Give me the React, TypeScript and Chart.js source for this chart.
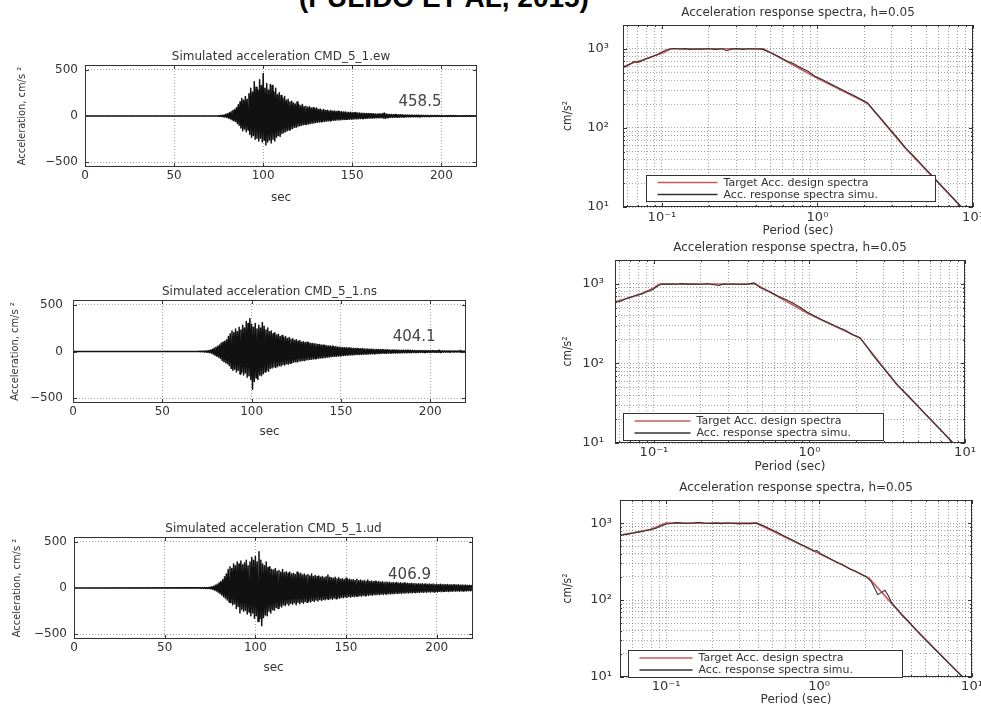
import React, { useEffect, useRef } from "react";
import { Chart, registerables } from "chart.js";

Chart.register(...registerables);

const figureTitle = "(PULIDO ET AL, 2015)";

// ---------- simulated accelerograms ----------
const timeTicks = [0, 50, 100, 150, 200];
const ampTicks = [-500, 0, 500];
const timeMax = 220;
const ampLimit = 550;
const peakStartSec = 70; // first entry of each peak list; the records are flat before it

// per-second peak swings (cm/s²) from 70 s to 220 s: positive and negative
const ewPos = [
  0, 0, 0, 0, 0, 3, 5, 8, 12, 18,
  25, 35, 45, 60, 70, 90, 120, 150, 190, 170,
  210, 180, 240, 300, 260, 370, 310, 280, 390, 330,
  458.5, 300, 350, 280, 340, 330, 260, 300, 230, 250,
  220, 190, 210, 170, 180, 150, 160, 140, 130, 150,
  120, 110, 125, 100, 105, 95, 100, 85, 90, 80,
  85, 70, 75, 65, 70, 60, 62, 55, 60, 52,
  55, 48, 50, 45, 47, 42, 44, 40, 38, 40,
  36, 35, 37, 33, 32, 30, 31, 28, 27, 28,
  25, 24, 25, 22, 21, 22, 20, 28, 32, 22,
  18, 17, 16, 15, 16, 14, 13, 14, 12, 12,
  11, 10, 10, 9, 9, 9, 8, 8, 8, 7,
  7, 7, 6, 6, 6, 6, 5, 5, 5, 5,
  5, 5, 4, 4, 4, 4, 4, 4, 4, 3,
  3, 3, 3, 3, 3, 3, 3, 3, 3, 3,
  3,
];
const ewNeg = [
  0, 0, 0, 0, 0, 3, 5, 7, 10, 15,
  22, 30, 40, 50, 60, 80, 100, 130, 160, 140,
  170, 150, 200, 230, 210, 250, 240, 270, 240, 280,
  260, 312, 280, 260, 290, 250, 270, 230, 210, 220,
  190, 180, 170, 160, 150, 140, 135, 120, 125, 110,
  105, 100, 95, 90, 88, 85, 80, 78, 75, 70,
  68, 65, 62, 60, 58, 55, 52, 50, 48, 46,
  45, 43, 42, 40, 39, 37, 36, 35, 34, 33,
  32, 31, 30, 29, 28, 27, 26, 25, 24, 23,
  22, 22, 21, 20, 19, 19, 18, 22, 26, 18,
  16, 15, 15, 14, 14, 13, 12, 12, 11, 11,
  10, 10, 9, 9, 9, 8, 8, 8, 7, 7,
  7, 6, 6, 6, 6, 5, 5, 5, 5, 5,
  5, 4, 4, 4, 4, 4, 4, 4, 3, 3,
  3, 3, 3, 3, 3, 3, 3, 3, 3, 3,
  3,
];
const nsPos = [
  0, 2, 3, 4, 5, 8, 10, 15, 25, 35,
  45, 55, 70, 90, 100, 110, 125, 160, 190, 220,
  200, 240, 210, 260, 230, 280, 250, 320, 300, 350,
  290, 260, 300, 240, 280, 250, 310, 270, 230, 250,
  210, 220, 190, 200, 175, 185, 160, 170, 150, 160,
  140, 150, 130, 135, 120, 125, 110, 115, 100, 105,
  95, 98, 90, 88, 85, 82, 80, 76, 74, 70,
  68, 66, 62, 60, 58, 55, 53, 50, 48, 46,
  44, 43, 41, 40, 38, 37, 36, 34, 33, 32,
  30, 30, 29, 28, 27, 26, 25, 24, 23, 22,
  22, 21, 20, 20, 19, 18, 18, 17, 17, 16,
  16, 15, 15, 14, 14, 14, 13, 13, 12, 12,
  12, 11, 11, 11, 10, 10, 10, 10, 9, 9,
  9, 9, 8, 8, 8, 15, 8, 7, 7, 7,
  7, 7, 6, 6, 6, 6, 6, 12, 5, 5,
  5,
];
const nsNeg = [
  0, 2, 3, 4, 6, 8, 12, 18, 28, 38,
  50, 60, 75, 95, 110, 120, 130, 150, 180, 200,
  190, 220, 200, 240, 220, 250, 230, 276, 260, 300,
  404.1, 320, 280, 300, 250, 260, 237, 220, 200, 210,
  180, 175, 165, 170, 160, 150, 155, 140, 145, 130,
  135, 125, 120, 115, 110, 112, 105, 100, 95, 98,
  90, 88, 84, 82, 80, 77, 75, 72, 70, 68,
  66, 64, 60, 58, 56, 54, 52, 50, 48, 46,
  44, 42, 41, 40, 38, 37, 36, 34, 33, 32,
  31, 30, 29, 28, 27, 26, 25, 24, 23, 22,
  22, 21, 20, 19, 19, 18, 17, 17, 16, 16,
  15, 15, 14, 14, 13, 13, 13, 12, 12, 12,
  11, 11, 11, 10, 10, 10, 10, 9, 9, 9,
  9, 8, 8, 8, 8, 12, 7, 7, 7, 7,
  7, 6, 6, 6, 6, 6, 6, 10, 5, 5,
  5,
];
const udPos = [
  2, 3, 4, 5, 6, 8, 12, 20, 30, 40,
  55, 70, 90, 120, 150, 200, 230, 210, 260, 240,
  280, 260, 290, 250, 270, 300, 240, 280, 330, 300,
  340, 280, 390, 300, 260, 240, 280, 220, 230, 200,
  195, 210, 180, 190, 170, 200, 165, 175, 160, 170,
  150, 160, 145, 170, 150, 160, 140, 150, 135, 145,
  130, 150, 125, 135, 120, 130, 115, 125, 110, 120,
  140, 115, 110, 105, 115, 100, 110, 95, 100, 90,
  105, 88, 95, 85, 90, 80, 95, 78, 85, 75,
  80, 72, 85, 70, 75, 68, 72, 65, 70, 62,
  68, 60, 65, 58, 62, 55, 60, 55, 58, 52,
  56, 50, 55, 48, 52, 46, 50, 45, 48, 44,
  46, 42, 45, 40, 44, 40, 42, 38, 42, 38,
  40, 36, 40, 35, 38, 34, 38, 33, 36, 32,
  35, 32, 34, 30, 33, 30, 32, 28, 30, 27,
  28,
];
const udNeg = [
  2, 3, 4, 5, 6, 9, 14, 22, 32, 45,
  60, 75, 95, 110, 130, 150, 160, 180, 170, 220,
  200, 270, 230, 250, 240, 280, 260, 300, 270, 325,
  300, 360, 330, 406.9, 320, 290, 300, 250, 270, 235,
  240, 210, 220, 195, 205, 180, 190, 170, 185, 165,
  175, 160, 180, 155, 170, 150, 165, 145, 155, 140,
  150, 135, 145, 130, 140, 125, 135, 120, 128, 115,
  125, 112, 120, 108, 115, 104, 110, 100, 106, 96,
  102, 92, 98, 88, 94, 85, 90, 82, 88, 78,
  84, 75, 80, 72, 78, 70, 74, 68, 72, 65,
  70, 62, 68, 60, 65, 58, 62, 56, 60, 54,
  58, 52, 56, 50, 54, 48, 52, 46, 50, 45,
  48, 43, 47, 42, 45, 40, 44, 40, 42, 38,
  42, 36, 40, 35, 38, 34, 38, 33, 36, 32,
  35, 31, 34, 30, 33, 29, 32, 28, 30, 27,
  28,
];

// ---------- acceleration response spectra, h = 0.05 ----------
const periodTicks = [0.05, 0.06, 0.07, 0.08, 0.09, 0.1, 0.2, 0.3, 0.4, 0.5, 0.6, 0.7, 0.8, 0.9, 1, 2, 3, 4, 5, 6, 7, 8, 9, 10];
const periodMajor = [0.1, 1, 10];
const periodMajorLabels = ["10⁻¹", "10⁰", "10¹"];
const saTicks = [10, 20, 30, 40, 50, 60, 70, 80, 90, 100, 200, 300, 400, 500, 600, 700, 800, 900, 1000, 2000];
const saMajor = [10, 100, 1000];
const saMajorLabels = ["10¹", "10²", "10³"];

const targetLabel = "Target Acc. design spectra";
const simLabel = "Acc. response spectra simu.";

// EW component
const ewTargetT = [0.0562, 0.066, 0.077, 0.089, 0.103, 0.114, 0.45, 1.0, 2.1, 3.6, 8.4, 10];
const ewTargetSa = [590, 670, 730, 815, 900, 1000, 1000, 425, 205, 58, 10, 7.1];
const horizSimT = [
  0.0562, 0.06, 0.063, 0.066, 0.07, 0.074, 0.078, 0.083, 0.088, 0.094,
  0.1, 0.106, 0.113, 0.12, 0.13, 0.14, 0.15, 0.165, 0.18, 0.2,
  0.22, 0.245, 0.26, 0.28, 0.3, 0.33, 0.36, 0.4, 0.44, 0.48,
  0.52, 0.57, 0.63, 0.7, 0.78, 0.87, 0.97, 1.08, 1.2, 1.35,
  1.5, 1.7, 1.9, 2.1, 2.35, 2.6, 2.9, 3.3, 3.7, 4.2,
  4.8, 5.5, 6.3, 7.2, 8.2, 9.2, 10,
];
const ewSimSa = [
  575, 610, 650, 690, 675, 700, 745, 770, 805, 850,
  910, 965, 995, 1010, 995, 1005, 985, 995, 990, 1000,
  985, 1000, 945, 990, 1005, 985, 1000, 995, 990, 925,
  860, 790, 705, 650, 575, 520, 445, 405, 365, 325,
  290, 258, 230, 205, 158, 126, 98, 73, 55, 43,
  32.5, 24.5, 18.3, 13.9, 10.6, 8.3, 7.1,
];

// NS component
const nsTargetT = [0.0562, 0.073, 0.085, 0.0986, 0.109, 0.45, 1.0, 2.13, 3.59, 8.4, 10];
const nsTargetSa = [597, 690, 762, 883, 1000, 1000, 415, 207, 56, 10, 7.1];
const nsSimSa = [
  590, 600, 625, 650, 675, 700, 725, 745, 790, 815,
  870, 950, 1000, 995, 1000, 990, 1010, 995, 1000, 990,
  1005, 975, 955, 995, 990, 1000, 985, 995, 1030, 900,
  845, 775, 700, 640, 575, 510, 440, 395, 355, 320,
  290, 262, 230, 212, 160, 122, 94, 70, 53, 41.5,
  31.5, 23.8, 18, 13.7, 10.4, 8.3, 7.0,
];

// UD component
const udTargetT = [0.05, 0.061, 0.0786, 0.1, 0.39, 0.955, 2.12, 3.0, 4.05, 6.3, 8.7, 10];
const udTargetSa = [700, 748, 828, 1000, 1000, 420, 193, 90, 47, 19, 10, 7.6];
const udSimT = [
  0.05, 0.055, 0.06, 0.066, 0.072, 0.079, 0.086, 0.094, 0.1, 0.108,
  0.117, 0.127, 0.138, 0.15, 0.163, 0.178, 0.195, 0.21, 0.23, 0.25,
  0.27, 0.3, 0.33, 0.36, 0.39, 0.43, 0.48, 0.53, 0.59, 0.66,
  0.74, 0.83, 0.93, 0.97, 1.02, 1.1, 1.2, 1.32, 1.45, 1.6,
  1.75, 1.9, 2.05, 2.2, 2.32, 2.42, 2.55, 2.7, 2.85, 3.0,
  3.2, 3.5, 3.9, 4.4, 5.0, 5.7, 6.5, 7.4, 8.4, 9.3, 10,
];
const udSimSa = [
  695, 715, 740, 765, 790, 820, 860, 925, 975, 990,
  1015, 1000, 990, 1005, 1025, 995, 990, 1000, 985, 1005,
  995, 980, 990, 985, 1000, 935, 840, 765, 680, 615,
  545, 490, 435, 440, 400, 375, 340, 308, 283, 252,
  235, 215, 200, 172, 140, 118, 125, 134, 112, 90,
  78, 63, 51, 39, 30, 23, 17.8, 13.7, 10.7, 8.8, 7.6,
];

// ---------- styling ----------
const FONT = "'DejaVu Sans', 'Open Sans', sans-serif";
const FONT_NARROW = "'DejaVu Sans Condensed', 'DejaVu Sans', sans-serif";
const INK = "#333";
const GRID = "rgba(90,90,90,0.55)";
const TARGET_COLOR = "#cf5858";
const SIM_COLOR = "#333";

type Area = { l: number; t: number; r: number; b: number };
type Box = { x: number; y: number; w: number; h: number };

function fit(area: Area, box: Box) {
  return {
    padTop: area.t - box.y,
    padRight: box.x + box.w - area.r,
    yWidth: area.l - box.x,
    xHeight: box.y + box.h - area.b,
  };
}

// Draws the closed axes box, inward tick marks, the panel title, an optional
// value note and an optional legend box.
const decorPlugin = {
  id: "decor",
  afterDatasetsDraw(chart: any, _args: any, opts: any) {
    const { ctx, chartArea: a } = chart;
    const xs = chart.scales.x;
    const ys = chart.scales.y;
    ctx.save();
    ctx.setLineDash([]);
    ctx.strokeStyle = INK;
    ctx.lineWidth = 1;
    ctx.beginPath();
    for (const t of xs.ticks) {
      const px = Math.round(xs.getPixelForValue(t.value)) + 0.5;
      const len = t.label ? 4 : 2;
      ctx.moveTo(px, a.bottom);
      ctx.lineTo(px, a.bottom - len);
      ctx.moveTo(px, a.top);
      ctx.lineTo(px, a.top + len);
    }
    for (const t of ys.ticks) {
      const py = Math.round(ys.getPixelForValue(t.value)) + 0.5;
      const len = t.label ? 4 : 2;
      ctx.moveTo(a.left, py);
      ctx.lineTo(a.left + len, py);
      ctx.moveTo(a.right, py);
      ctx.lineTo(a.right - len, py);
    }
    ctx.stroke();
    ctx.strokeRect(
      Math.round(a.left) + 0.5,
      Math.round(a.top) + 0.5,
      Math.round(a.right - a.left) - 1,
      Math.round(a.bottom - a.top) - 1
    );

    ctx.fillStyle = INK;
    ctx.textAlign = "center";
    ctx.textBaseline = "middle";
    ctx.font = `12px ${FONT}`;
    ctx.fillText(opts.title, (a.left + a.right) / 2, a.top - opts.titleGap);

    if (opts.note) {
      ctx.fillStyle = "#444";
      ctx.font = `15px ${FONT}`;
      ctx.fillText(opts.note.text, xs.getPixelForValue(opts.note.x), ys.getPixelForValue(opts.note.y));
    }

    if (opts.legend) {
      const lg = opts.legend;
      const left = Math.round(a.left + lg.dx) + 0.5;
      const top = Math.round(a.bottom - lg.dy - lg.h) + 0.5;
      ctx.fillStyle = "#fff";
      ctx.fillRect(left, top, lg.w, lg.h);
      ctx.strokeStyle = INK;
      ctx.strokeRect(left, top, lg.w, lg.h);
      ctx.font = `11px ${FONT}`;
      ctx.textAlign = "left";
      lg.items.forEach((it: any, i: number) => {
        const y = top + lg.h / 2 + (i - 0.5) * 12;
        ctx.strokeStyle = it.color;
        ctx.lineWidth = 1.3;
        ctx.beginPath();
        ctx.moveTo(left + 11, y);
        ctx.lineTo(left + lg.line, y);
        ctx.stroke();
        ctx.fillStyle = INK;
        ctx.fillText(it.text, left + lg.line + 6, y + 0.5);
      });
    }
    ctx.restore();
  },
};

const gridOpts = { color: GRID, lineWidth: 1, drawTicks: false };
const borderOpts = { display: false, dash: [1, 2] };

type TracePanel = {
  box: Box;
  area: Area;
  title: string;
  pos: number[];
  neg: number[];
  note: { x: number; y: number };
  tickPadX: number;
  tickPadY: number;
  secPad: number;
  yTitlePad: number;
};

function traceConfig(p: TracePanel) {
  const lay = fit(p.area, p.box);
  const pts: { x: number; y: number }[] = [{ x: 0, y: 0 }];
  p.pos.forEach((v, i) => {
    const t = peakStartSec + i;
    pts.push({ x: t, y: v });
    pts.push({ x: t + 0.5, y: -p.neg[i] });
  });
  const pga = Math.max(...p.pos, ...p.neg);
  return {
    type: "line",
    data: {
      datasets: [
        {
          data: pts,
          borderColor: "#111",
          borderWidth: 1.5,
          pointRadius: 0,
          tension: 0,
          borderJoinStyle: "round",
        },
      ],
    },
    options: {
      animation: false,
      responsive: false,
      events: [],
      layout: { padding: { top: lay.padTop, right: lay.padRight, left: 0, bottom: 0 } },
      plugins: {
        legend: { display: false },
        tooltip: { enabled: false },
        decor: { title: p.title, titleGap: 8, note: { text: pga.toFixed(1), x: p.note.x, y: p.note.y } },
      },
      scales: {
        x: {
          type: "linear",
          min: 0,
          max: timeMax,
          bounds: "data",
          afterBuildTicks: (s: any) => {
            s.ticks = timeTicks.map((value) => ({ value }));
          },
          afterFit: (s: any) => {
            s.height = lay.xHeight;
          },
          grid: gridOpts,
          border: borderOpts,
          ticks: {
            autoSkip: false,
            maxRotation: 0,
            padding: p.tickPadX,
            color: INK,
            font: { family: FONT, size: 12 },
            callback: (v: number) => String(v),
          },
          title: {
            display: true,
            text: "sec",
            color: INK,
            font: { family: FONT, size: 12 },
            padding: { top: 0, bottom: p.secPad },
          },
        },
        y: {
          type: "linear",
          min: -ampLimit,
          max: ampLimit,
          bounds: "data",
          afterBuildTicks: (s: any) => {
            s.ticks = ampTicks.map((value) => ({ value }));
          },
          afterFit: (s: any) => {
            s.width = lay.yWidth;
          },
          grid: gridOpts,
          border: borderOpts,
          ticks: {
            autoSkip: false,
            padding: p.tickPadY,
            color: INK,
            font: { family: FONT, size: 12 },
            callback: (v: number) => (v < 0 ? "\u2212" + Math.abs(v) : String(v)),
          },
          title: {
            display: true,
            text: "Acceleration, cm/s \u00b2",
            color: INK,
            font: { family: FONT_NARROW, size: 11 },
            padding: { top: p.yTitlePad, bottom: 0 },
          },
        },
      },
    },
    plugins: [decorPlugin],
  };
}

type SpectrumPanel = {
  box: Box;
  area: Area;
  minPeriod: number;
  targetT: number[];
  targetSa: number[];
  simT: number[];
  simSa: number[];
  legend: { dx: number; dy: number; w: number; h: number; line: number };
  tickPadX: number;
  tickPadY: number;
  periodPad: number;
  yTitlePad: number;
};

function spectrumConfig(p: SpectrumPanel) {
  const lay = fit(p.area, p.box);
  const target = p.targetT.map((x, i) => ({ x, y: p.targetSa[i] }));
  const sim = p.simT.map((x, i) => ({ x, y: p.simSa[i] }));
  return {
    type: "line",
    data: {
      datasets: [
        { label: simLabel, data: sim, borderColor: SIM_COLOR, borderWidth: 1.1, pointRadius: 0, tension: 0 },
        { label: targetLabel, data: target, borderColor: TARGET_COLOR, borderWidth: 1.6, pointRadius: 0, tension: 0 },
      ],
    },
    options: {
      animation: false,
      responsive: false,
      events: [],
      layout: { padding: { top: lay.padTop, right: lay.padRight, left: 0, bottom: 0 } },
      plugins: {
        legend: { display: false },
        tooltip: { enabled: false },
        decor: {
          title: "Acceleration response spectra, h=0.05",
          titleGap: 12,
          legend: {
            ...p.legend,
            items: [
              { text: targetLabel, color: TARGET_COLOR },
              { text: simLabel, color: SIM_COLOR },
            ],
          },
        },
      },
      scales: {
        x: {
          type: "logarithmic",
          min: p.minPeriod,
          max: 10,
          afterBuildTicks: (s: any) => {
            s.ticks = periodTicks.filter((v) => v >= p.minPeriod && v <= 10).map((value) => ({ value }));
          },
          afterFit: (s: any) => {
            s.height = lay.xHeight;
          },
          grid: gridOpts,
          border: borderOpts,
          ticks: {
            autoSkip: false,
            maxRotation: 0,
            padding: p.tickPadX,
            color: INK,
            font: { family: FONT, size: 13 },
            callback: (v: number) => {
              const i = periodMajor.indexOf(v);
              return i >= 0 ? periodMajorLabels[i] : "";
            },
          },
          title: {
            display: true,
            text: "Period (sec)",
            color: INK,
            font: { family: FONT, size: 12 },
            padding: { top: 0, bottom: p.periodPad },
          },
        },
        y: {
          type: "logarithmic",
          min: 10,
          max: 2000,
          afterBuildTicks: (s: any) => {
            s.ticks = saTicks.map((value) => ({ value }));
          },
          afterFit: (s: any) => {
            s.width = lay.yWidth;
          },
          grid: gridOpts,
          border: borderOpts,
          ticks: {
            autoSkip: false,
            padding: p.tickPadY,
            color: INK,
            font: { family: FONT, size: 13 },
            callback: (v: number) => {
              const i = saMajor.indexOf(v);
              return i >= 0 ? saMajorLabels[i] : "";
            },
          },
          title: {
            display: true,
            text: "cm/s\u00b2",
            color: INK,
            font: { family: FONT_NARROW, size: 12 },
            padding: { top: p.yTitlePad, bottom: 0 },
          },
        },
      },
    },
    plugins: [decorPlugin],
  };
}

const tracePanels: TracePanel[] = [
  {
    box: { x: 0, y: 40, w: 490, h: 172 },
    area: { l: 85, t: 65, r: 477, b: 167 },
    title: "Simulated acceleration CMD_5_1.ew",
    pos: ewPos,
    neg: ewNeg,
    note: { x: 188, y: 150 },
    tickPadX: 2,
    tickPadY: 7,
    secPad: 7,
    yTitlePad: 16,
  },
  {
    box: { x: 0, y: 275, w: 480, h: 172 },
    area: { l: 73, t: 300, r: 466, b: 403 },
    title: "Simulated acceleration CMD_5_1.ns",
    pos: nsPos,
    neg: nsNeg,
    note: { x: 191, y: 150 },
    tickPadX: 2,
    tickPadY: 10,
    secPad: 8,
    yTitlePad: 9,
  },
  {
    box: { x: 0, y: 512, w: 490, h: 172 },
    area: { l: 74, t: 537, r: 473, b: 639 },
    title: "Simulated acceleration CMD_5_1.ud",
    pos: udPos,
    neg: udNeg,
    note: { x: 185, y: 140 },
    tickPadX: 2,
    tickPadY: 7,
    secPad: 9,
    yTitlePad: 11,
  },
];

const spectrumPanels: SpectrumPanel[] = [
  {
    box: { x: 560, y: 0, w: 440, h: 245 },
    area: { l: 623, t: 25, r: 973, b: 207 },
    minPeriod: 0.0562,
    targetT: ewTargetT,
    targetSa: ewTargetSa,
    simT: horizSimT,
    simSa: ewSimSa,
    legend: { dx: 23, dy: 6, w: 289, h: 26, line: 71 },
    tickPadX: 3,
    tickPadY: 14,
    periodPad: 7,
    yTitlePad: 1,
  },
  {
    box: { x: 560, y: 240, w: 430, h: 240 },
    area: { l: 615, t: 260, r: 965, b: 443 },
    minPeriod: 0.0562,
    targetT: nsTargetT,
    targetSa: nsTargetSa,
    simT: horizSimT,
    simSa: nsSimSa,
    legend: { dx: 8, dy: 3, w: 260, h: 27, line: 67 },
    tickPadX: 2,
    tickPadY: 11,
    periodPad: 6,
    yTitlePad: 1,
  },
  {
    box: { x: 560, y: 480, w: 440, h: 227 },
    area: { l: 620, t: 500, r: 972, b: 677 },
    minPeriod: 0.05,
    targetT: udTargetT,
    targetSa: udTargetSa,
    simT: udSimT,
    simSa: udSimSa,
    legend: { dx: 8, dy: 0, w: 274, h: 27, line: 64 },
    tickPadX: 2,
    tickPadY: 8,
    periodPad: 0,
    yTitlePad: 1,
  },
];

function ChartCanvas({ box, make }: { box: Box; make: () => any }) {
  const ref = useRef<HTMLCanvasElement | null>(null);
  useEffect(() => {
    if (!ref.current) return;
    const chart = new Chart(ref.current, make());
    return () => chart.destroy();
  }, []);
  return (
    <canvas
      ref={ref}
      width={box.w}
      height={box.h}
      style={{ position: "absolute", left: box.x, top: box.y, width: box.w, height: box.h }}
    />
  );
}

export default function App() {
  return (
    <div
      style={{
        position: "absolute",
        left: 0,
        top: 0,
        width: 981,
        height: 707,
        overflow: "hidden",
        background: "#fff",
      }}
    >
      <div
        style={{
          position: "absolute",
          left: 244,
          top: -16,
          width: 400,
          textAlign: "center",
          font: "bold 28px 'Liberation Sans', Arial, sans-serif",
          lineHeight: "28px",
          color: "#000",
          whiteSpace: "nowrap",
        }}
      >
        {figureTitle}
      </div>
      {tracePanels.map((p, i) => (
        <ChartCanvas key={"t" + i} box={p.box} make={() => traceConfig(p)} />
      ))}
      {spectrumPanels.map((p, i) => (
        <ChartCanvas key={"s" + i} box={p.box} make={() => spectrumConfig(p)} />
      ))}
    </div>
  );
}
